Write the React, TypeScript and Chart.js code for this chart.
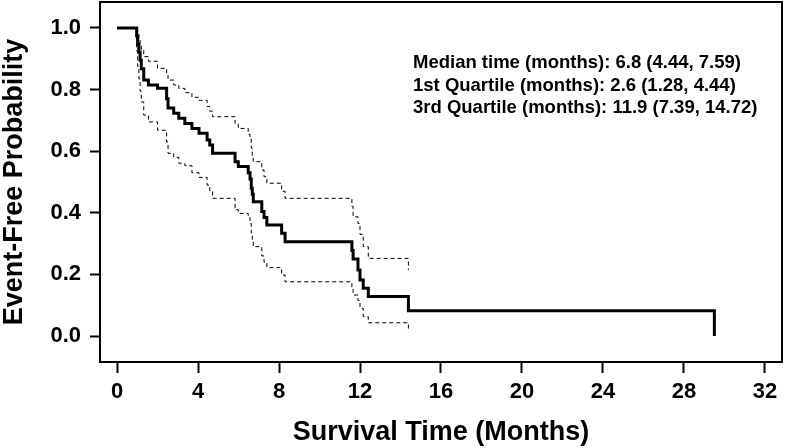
import React, { useEffect, useRef } from 'react';
import { Chart, registerables } from 'chart.js';

Chart.register(...registerables);

// ---- Data ----
const times = [
  0, 0.97, 1.02, 1.08, 1.14, 1.2, 1.32, 1.55, 2.0, 2.45, 2.52, 2.8, 3.05, 3.35, 3.7, 4.05, 4.45, 4.58, 4.72,
  5.83, 5.99, 6.48, 6.57, 6.63, 6.68, 6.73, 7.15, 7.26, 7.4, 8.13, 8.3, 11.6, 11.66, 11.9, 12.0, 12.16,
  12.41, 14.39, 29.5,
];
const survival = [
  1.0, 0.974, 0.947, 0.921, 0.895, 0.868, 0.831, 0.815, 0.804, 0.77, 0.74, 0.723, 0.707, 0.69, 0.674, 0.658,
  0.636, 0.62, 0.593, 0.566, 0.55, 0.53, 0.51, 0.48, 0.46, 0.436, 0.404, 0.385, 0.36, 0.334, 0.306, 0.278,
  0.25, 0.214, 0.182, 0.155, 0.128, 0.082, 0.0,
];
const upperCI = [
  1.0, 1.0, 0.985, 0.965, 0.945, 0.929, 0.907, 0.892, 0.869, 0.847, 0.831, 0.815, 0.804, 0.79, 0.775, 0.765,
  0.745, 0.73, 0.712, 0.69, 0.674, 0.655, 0.64, 0.61, 0.585, 0.566, 0.539, 0.517, 0.496, 0.47, 0.447, 0.42,
  0.387, 0.365, 0.33, 0.29, 0.252, 0.214,
];
const lowerCI = [
  1.0, 0.925, 0.875, 0.835, 0.795, 0.76, 0.717, 0.695, 0.668, 0.63, 0.593, 0.58, 0.561, 0.553, 0.53, 0.515,
  0.49, 0.47, 0.447, 0.41, 0.398, 0.385, 0.365, 0.335, 0.31, 0.29, 0.26, 0.24, 0.222, 0.198, 0.176, 0.155,
  0.133, 0.115, 0.09, 0.063, 0.043, 0.019,
];
const xTicks = [0, 4, 8, 12, 16, 20, 24, 28, 32];
const yTicks = [0, 0.2, 0.4, 0.6, 0.8, 1.0];
const annotationLines = [
  'Median time (months): 6.8 (4.44, 7.59)',
  '1st Quartile (months): 2.6 (1.28, 4.44)',
  '3rd Quartile (months): 11.9 (7.39, 14.72)',
];

const FONT = "'Liberation Sans', Arial, Helvetica, sans-serif";

const boxPlugin = {
  id: 'boxAndText',
  afterDraw(chart: any) {
    const { ctx, chartArea } = chart;
    const { left, top, right, bottom } = chartArea;
    ctx.save();
    ctx.strokeStyle = '#000';
    ctx.lineWidth = 2;
    ctx.strokeRect(left, top, right - left, bottom - top);
    ctx.fillStyle = '#000';
    ctx.font = `bold 18.5px ${FONT}`;
    ctx.textBaseline = 'middle';
    ctx.textAlign = 'left';
    annotationLines.forEach((t, i) => {
      ctx.fillText(t, 413, 63 + i * 22.5);
    });
    ctx.restore();
  },
};

export default function App() {
  const ref = useRef<HTMLCanvasElement | null>(null);

  useEffect(() => {
    if (!ref.current) return;
    const mainData = times.map((t, i) => ({ x: t, y: survival[i] }));
    const upData = upperCI.map((v, i) => ({ x: times[i], y: v }));
    const loData = lowerCI.map((v, i) => ({ x: times[i], y: v }));

    const dashed = {
      borderColor: '#000',
      borderWidth: 1,
      borderDash: [4, 3],
      pointRadius: 0,
      stepped: true,
      fill: false,
      borderCapStyle: 'butt',
    };

    const chart = new Chart(ref.current, {
      type: 'line',
      data: {
        datasets: [
          { label: 'upper', data: upData, ...dashed } as any,
          { label: 'lower', data: loData, ...dashed } as any,
          {
            label: 'KM',
            data: mainData,
            borderColor: '#000',
            borderWidth: 3,
            pointRadius: 0,
            stepped: true,
            fill: false,
            borderCapStyle: 'butt',
            borderJoinStyle: 'miter',
          } as any,
        ],
      },
      options: {
        animation: false,
        responsive: false,
        layout: { padding: { top: 2, right: 4, left: 0, bottom: 0 } },
        plugins: { legend: { display: false }, tooltip: { enabled: false } },
        scales: {
          x: {
            type: 'linear',
            min: -0.84,
            max: 32.84,
            afterFit: (s: any) => {
              s.height = 86;
              s.paddingLeft = 0;
              s.paddingRight = 0;
            },
            afterBuildTicks: (s: any) => {
              s.ticks = xTicks.map((v) => ({ value: v }));
            },
            ticks: {
              color: '#000',
              font: { family: FONT, size: 22, weight: 'bold' },
              padding: 6,
              maxRotation: 0,
              callback: (v: any) => String(v),
            },
            grid: {
              drawOnChartArea: false,
              drawTicks: true,
              tickLength: 11,
              tickWidth: 2,
              tickColor: '#000',
              color: '#000',
            },
            border: { display: false },
            title: {
              display: true,
              text: 'Survival Time (Months)',
              color: '#000',
              font: { family: FONT, size: 27, weight: 'bold', lineHeight: 1 },
              padding: { top: 0, bottom: 2 },
            },
          },
          y: {
            type: 'linear',
            min: -0.0844,
            max: 1.0844,
            afterFit: (s: any) => {
              s.width = 100;
              s.paddingTop = 0;
              s.paddingBottom = 0;
            },
            afterBuildTicks: (s: any) => {
              s.ticks = yTicks.map((v) => ({ value: v }));
            },
            ticks: {
              color: '#000',
              font: { family: FONT, size: 22, weight: 'bold' },
              padding: 9,
              callback: (v: any) => Number(v).toFixed(1),
            },
            grid: {
              drawOnChartArea: false,
              drawTicks: true,
              tickLength: 10,
              tickWidth: 2,
              tickColor: '#000',
              color: '#000',
            },
            border: { display: false },
            title: {
              display: true,
              text: 'Event-Free Probability',
              color: '#000',
              font: { family: FONT, size: 27, weight: 'bold', lineHeight: 1 },
              padding: { top: 1, bottom: 0 },
            },
          },
        },
      },
      plugins: [boxPlugin],
    });
    return () => chart.destroy();
  }, []);

  return (
    <div style={{ position: 'fixed', left: 0, top: 0, width: 786, height: 448, background: '#fff' }}>
      <canvas ref={ref} width={786} height={448} style={{ display: 'block' }} />
    </div>
  );
}
